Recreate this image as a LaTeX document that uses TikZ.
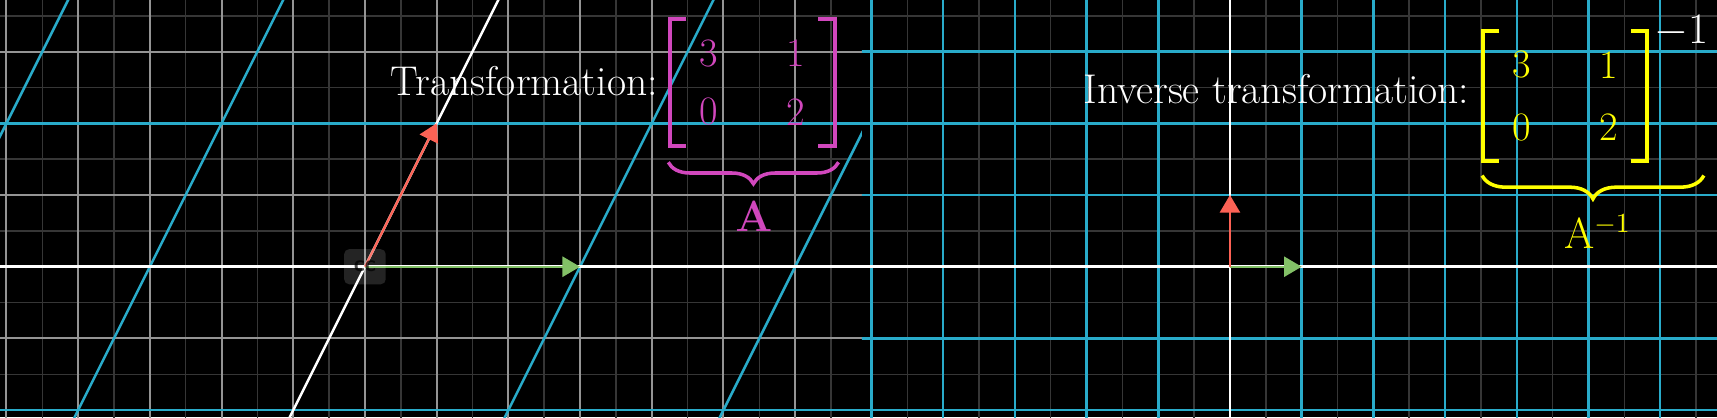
\documentclass[tikz,border=0pt]{standalone}
\usetikzlibrary{arrows.meta, matrix, decorations.pathreplacing}
\definecolor{cblue}{HTML}{29ABCA}
\definecolor{cred}{HTML}{FC6255}
\definecolor{cgreen}{HTML}{83C167}
\definecolor{cpink}{HTML}{D147BD}
\definecolor{cyellow}{HTML}{FFFF00}
\definecolor{cfaint}{HTML}{363636}
\definecolor{cgrid}{HTML}{949494}
\newcommand{\entryfont}{\fontsize{16}{18}\selectfont}
\tikzset{
  faint/.style={draw=cfaint, line width=0.6pt},
  gridline/.style={draw=cgrid, line width=0.8pt},
  blueline/.style={draw=cblue, line width=1pt},
  axis/.style={draw=white, line width=1pt},
  vec/.style={-{Triangle[length=0.245cm, width=0.28cm]}, line width=0.9pt},
  caption/.style={text=white, inner sep=0pt, font=\fontsize{16.5}{18}\selectfont},
  entries/.style 2 args={matrix of nodes, inner xsep=0pt, row sep=0pt,
      nodes={anchor=center, minimum width=#1, minimum height=#2, execute at begin node=\entryfont}},
  bracket/.style={line width=1.6pt},
  underbrace/.style={decorate, decoration={brace, amplitude=#1}, line width=1.4pt},
  matname/.style={anchor=base, inner sep=0pt, font=\fontsize{16}{18}\selectfont},
  ccicon/.style={rounded corners=0.07cm, fill=white, fill opacity=0.14, text=black, text opacity=0.7,
      minimum width=0.58cm, minimum height=0.49cm, inner sep=0pt, font=\sffamily\bfseries\fontsize{9}{9}\selectfont},
}

\begin{document}
\begin{tikzpicture}
  \useasboundingbox (-5.09,-2.096) rectangle (18.857,3.72);
  \fill[black] (-5.09,-2.096) rectangle (18.857,3.72);
  \begin{scope}
    \clip (-5.09,-2.096) rectangle (6.93,3.72);
    \foreach \x in {-5.5,-4.5,...,6.5} \draw[faint] (\x,-2.2) -- (\x,3.8);
    \foreach \y in {-2.5,-1.5,...,3.5} \draw[faint] (-5.2,\y) -- (7,\y);
    \foreach \x in {-5,...,6} \draw[gridline] (\x,-2.2) -- (\x,3.8);
    \foreach \y in {-2,...,3} \draw[gridline] (-5.2,\y) -- (7,\y);
    \foreach \y in {-2,2} \draw[blueline] (-5.2,\y) -- (7,\y);
    \foreach \k in {-2,-1,1,2} \draw[blueline] ({3*\k-1.1},-2.2) -- ({3*\k+1.9},3.8);
    \draw[axis] (-5.2,0) -- (7,0);
    \draw[axis] (-1.1,-2.2) -- (1.9,3.8);
  \end{scope}
  \begin{scope}[shift={(12.064,0)}]
    \clip (-5.134,-2.096) rectangle (6.793,3.72);
    \foreach \x in {-5.5,-4.5,...,6.5} \draw[faint] (\x,-2.2) -- (\x,3.8);
    \foreach \y in {-2.5,-1.5,...,3.5} \draw[faint] (-5.2,\y) -- (7,\y);
    \foreach \x in {-5,-4,-3,-2,-1,1,2,3,4,5,6} \draw[blueline] (\x,-2.2) -- (\x,3.8);
    \foreach \y in {-2,-1,1,2,3} \draw[blueline] (-5.2,\y) -- (7,\y);
    \draw[axis] (-5.2,0) -- (7,0);
    \draw[axis] (0,-2.2) -- (0,3.8);
  \end{scope}

  \coordinate (lo) at (0,0);
  \coordinate (li) at (3,0);
  \coordinate (lj) at (1,2);
  \coordinate (ro) at (12.064,0);
  \coordinate (ri) at (13.064,0);
  \coordinate (rj) at (12.064,1);
  \draw[vec, cgreen] (lo) -- (li);
  \draw[vec, cred] (lo) -- (lj);
  \draw[vec, cgreen] (ro) -- (ri);
  \draw[vec, cred] (ro) -- (rj);
  \node[ccicon] (cc) at (lo) {cc};

  \node[caption, anchor=base east] (ltitle) at (4.09,2.381) {Transformation:};
  \matrix (lA) [entries={1.067cm}{0.82cm}, text=cpink, column sep=0.156cm, inner ysep=0.06cm]
      at (5.403,2.568) {3 & 1 \\ 0 & 2 \\};
  \draw[bracket, cpink] ([xshift=0.23cm]lA.north west) -- (lA.north west) -- (lA.south west) -- ++(0.23,0);
  \draw[bracket, cpink] ([xshift=-0.23cm]lA.north east) -- (lA.north east) -- (lA.south east) -- ++(-0.23,0);
  \draw[underbrace=0.3cm, cpink] ([shift={(0.05,-0.224)}]lA.south east) -- ([shift={(-0.02,-0.224)}]lA.south west);
  \node[matname, text=cpink] (lAname) at ([shift={(0.02,-1.186)}]lA.south) {$\mathbf{A}$};

  \node[caption, anchor=base east] (rtitle) at (15.41,2.279) {Inverse transformation:};
  \matrix (rA) [entries={1.072cm}{0.873cm}, text=cyellow, column sep=0.136cm, inner ysep=0.032cm]
      at (16.74,2.38) {3 & 1 \\ 0 & 2 \\};
  \draw[bracket, cyellow] ([xshift=0.23cm]rA.north west) -- (rA.north west) -- (rA.south west) -- ++(0.23,0);
  \draw[bracket, cyellow] ([xshift=-0.23cm]rA.north east) -- (rA.north east) -- (rA.south east) -- ++(-0.23,0);
  \node[caption, anchor=base west] (rAinv) at ([shift={(0.088,-0.182)}]rA.north east) {$-1$};
  \draw[underbrace=0.325cm, cyellow] ([shift={(0.786,-0.196)}]rA.south east) -- ([shift={(-0.012,-0.196)}]rA.south west);
  \node[matname, text=cyellow] (rAname) at ([shift={(0.45,-1.218)}]rA.south) {$\mathrm{A}^{-1}$};
\end{tikzpicture}
\end{document}
